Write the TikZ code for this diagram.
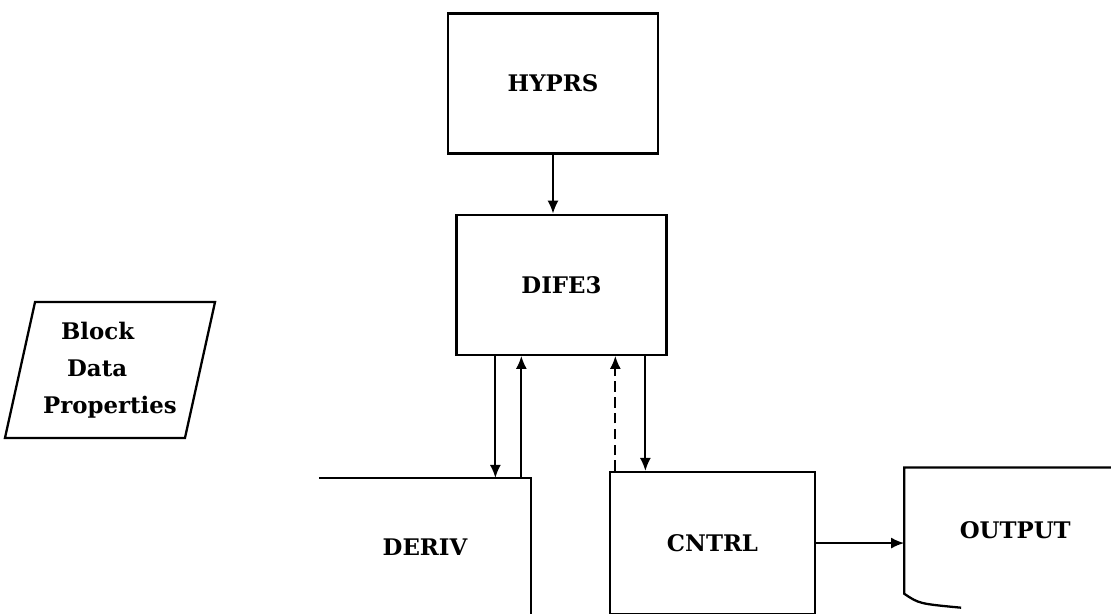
\documentclass[tikz,border=0pt]{standalone}
\usepackage{fontspec}
\setmainfont{DejaVu Serif}
\usetikzlibrary{shapes.geometric, arrows.meta, positioning}
\tikzset{
  module/.style = {rectangle, draw, line width=1.3pt, align=center,
                   minimum width=4.2cm, minimum height=2.8cm,
                   font=\fontsize{13}{21}\selectfont\bfseries},
  bare/.style   = {align=left, font=\fontsize{13}{21}\selectfont\bfseries},
  flow/.style   = {line width=1pt, -{Latex[length=2.6mm,width=2.2mm]}},
  back/.style   = {flow, dash pattern=on 6pt off 3pt}
}

\begin{document}
\begin{tikzpicture}[node distance=1.18cm]
  \useasboundingbox (0,0) rectangle (22.22,-12.28);

  % Main program chain
  \node (hyprs) [module] at (11.06,-1.67) {HYPRS};
  \node (dife3) [module, below=1.18cm of hyprs, xshift=0.17cm] {DIFE3};

  % Subroutine layer
  \node (deriv)  [module, draw=none, below=2.44cm of dife3, xshift=-2.73cm,
                  minimum height=2.74cm] {DERIV};
  \node (cntrl)  [module, below=2.3cm of dife3, xshift=3.02cm,
                  minimum width=4.1cm, minimum height=2.84cm] {CNTRL};

  % Output device
  \node (output) [module, draw=none, right=1.76cm of cntrl, yshift=0.25cm,
                  minimum width=4.4cm, minimum height=2.48cm] {OUTPUT};

  % Block data
  \node (block)  [bare, trapezium, draw, line width=1.3pt, inner xsep=-4.2pt,
                  trapezium left angle=77.5, trapezium right angle=102.5,
                  minimum width=3.6cm, minimum height=2.72cm] at (2.2,-7.4)
                 {\hspace{0.36cm}Block\\\hspace{0.48cm}Data\\Properties};

  % Open outlines
  \draw[line width=1.3pt] (deriv.north west) -- (deriv.north east)
    -- (deriv.south east) -- ([xshift=-1.6cm]deriv.south east);
  \draw[line width=1.3pt] (output.north east) -- (output.north west)
    -- (output.south west)
    .. controls ([xshift=0.3cm,yshift=-0.2cm]output.south west)
    .. ([xshift=1.14cm,yshift=-0.28cm]output.south west);

  % Arrows — calls between routines
  \draw[flow] (hyprs.south) -- (hyprs.south |- dife3.north);
  \draw[flow] ([xshift=0.8cm]dife3.south west) -- ([xshift=0.8cm]dife3.south west |- deriv.north);
  \draw[flow] ([xshift=1.32cm]dife3.south west |- deriv.north) -- ([xshift=1.32cm]dife3.south west);
  \draw[back] ([xshift=3.2cm]dife3.south west |- cntrl.north) -- ([xshift=3.2cm]dife3.south west);
  \draw[flow] ([xshift=3.8cm]dife3.south west) -- ([xshift=3.8cm]dife3.south west |- cntrl.north);
  % Results to output
  \draw[flow] (cntrl.east) -- (cntrl.east -| output.west);
\end{tikzpicture}
\end{document}
